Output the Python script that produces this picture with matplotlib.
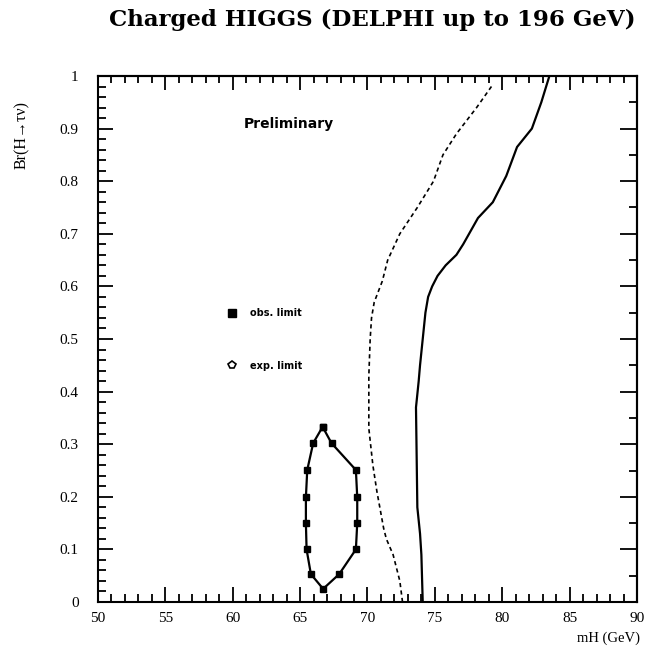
import matplotlib
matplotlib.use("Agg")
import matplotlib.pyplot as plt
from matplotlib.ticker import MultipleLocator, NullFormatter
from matplotlib.lines import Line2D

# observed limit (solid)
obs_br = [0.0, 0.09, 0.13, 0.18, 0.37, 0.42, 0.45, 0.50, 0.55, 0.58, 0.60,
          0.62, 0.64, 0.66, 0.68, 0.73, 0.76, 0.81, 0.865, 0.90, 0.95, 1.0]
obs_mh = [74.1, 74.0, 73.9, 73.7, 73.6, 73.8, 73.9, 74.1, 74.3, 74.5, 74.8,
          75.2, 75.8, 76.6, 77.1, 78.2, 79.3, 80.3, 81.1, 82.2, 82.9, 83.5]

# expected limit (dashed)
exp_br = [0.0, 0.04, 0.09, 0.12, 0.14, 0.21, 0.26, 0.33, 0.43, 0.50, 0.54,
          0.57, 0.61, 0.65, 0.70, 0.75, 0.80, 0.85, 0.89, 0.94, 0.98]
exp_mh = [72.6, 72.4, 71.9, 71.4, 71.2, 70.7, 70.4, 70.1, 70.1, 70.2, 70.3,
          70.5, 71.1, 71.5, 72.4, 73.7, 74.9, 75.6, 76.6, 78.1, 79.2]

# small excluded island
isl_mh = [66.67, 67.33, 69.14, 69.24, 69.24, 69.14, 67.9, 66.71, 65.8,
          65.48, 65.43, 65.43, 65.53, 65.97, 66.67]
isl_br = [0.333, 0.302, 0.251, 0.199, 0.150, 0.100, 0.053, 0.025, 0.053,
          0.100, 0.150, 0.199, 0.251, 0.302, 0.333]

fig = plt.figure(figsize=(6.48, 6.55), dpi=100)
ax = fig.add_axes([0.1512, 0.0809, 0.8318, 0.8031])

ax.plot(obs_mh, obs_br, color="black", lw=1.6)
ax.plot(exp_mh, exp_br, color="black", lw=1.2, linestyle=(0, (2.5, 2)))
ax.plot(isl_mh, isl_br, color="black", lw=1.6, marker="s", markersize=4.5)

ax.set_xlim(50, 90)
ax.set_ylim(0, 1)

for s in ax.spines.values():
    s.set_linewidth(1.5)

serif = "Liberation Serif"
ax.xaxis.set_major_locator(MultipleLocator(5))
ax.xaxis.set_minor_locator(MultipleLocator(1))
ax.yaxis.set_major_locator(MultipleLocator(0.1))
ax.yaxis.set_minor_locator(MultipleLocator(0.02))
ax.tick_params(which="both", direction="in", width=1.3, top=False, right=False)
ax.tick_params(which="major", length=11)
ax.tick_params(which="minor", length=5.5)
ax.tick_params(axis="x", pad=7)
ax.tick_params(axis="y", pad=14)
ax.set_yticks([0, 0.1, 0.2, 0.3, 0.4, 0.5, 0.6, 0.7, 0.8, 0.9, 1.0])
ax.set_yticklabels(["0", "0.1", "0.2", "0.3", "0.4", "0.5", "0.6", "0.7",
                    "0.8", "0.9", "1"])
for lab in ax.get_xticklabels() + ax.get_yticklabels():
    lab.set_fontfamily(serif)
    lab.set_fontsize(11)

# top / right ticks
top = ax.secondary_xaxis("top")
top.xaxis.set_major_locator(MultipleLocator(5))
top.xaxis.set_minor_locator(MultipleLocator(1))
top.xaxis.set_major_formatter(NullFormatter())
top.tick_params(which="both", direction="in", width=1.3)
top.tick_params(which="major", length=10)
top.tick_params(which="minor", length=5)
top.spines["top"].set_linewidth(1.5)

right = ax.secondary_yaxis("right")
right.yaxis.set_major_locator(MultipleLocator(0.1))
right.yaxis.set_minor_locator(MultipleLocator(0.05))
right.yaxis.set_major_formatter(NullFormatter())
right.tick_params(which="both", direction="in", width=1.3)
right.tick_params(which="major", length=12)
right.tick_params(which="minor", length=6)
right.spines["right"].set_linewidth(1.5)

ax.text(64.17, 0.909, "Preliminary", ha="center", va="center",
        fontsize=10, fontweight="bold", family="DejaVu Sans")

handles = [
    Line2D([], [], color="black", linestyle="none", marker="s", markersize=6),
    Line2D([], [], color="black", linestyle="none", marker="p", markersize=6,
           markerfacecolor="white", markeredgewidth=1.2),
]
leg = ax.legend(handles, ["obs. limit", "exp. limit"], loc="center left",
                bbox_to_anchor=(0.350, 0.4817), bbox_transform=fig.transFigure,
                frameon=False, borderpad=0, borderaxespad=0, handlelength=1,
                handletextpad=1.4, labelspacing=4.4,
                prop={"family": "DejaVu Sans", "weight": "bold", "size": 7})

fig.text(0.574, 0.969, "Charged HIGGS (DELPHI up to 196 GeV)", ha="center",
         va="center", fontsize=16.5, fontweight="bold", family="DejaVu Serif")
fig.text(0.034, 0.794, "Br(H\u2192\u03c4\u03bd)", rotation=90, ha="center",
         va="center", fontsize=11.5, family=serif)
fig.text(0.988, 0.026, "mH (GeV)", ha="right", va="center",
         fontsize=10.5, family=serif)

fig.savefig("out.png", dpi=100)
